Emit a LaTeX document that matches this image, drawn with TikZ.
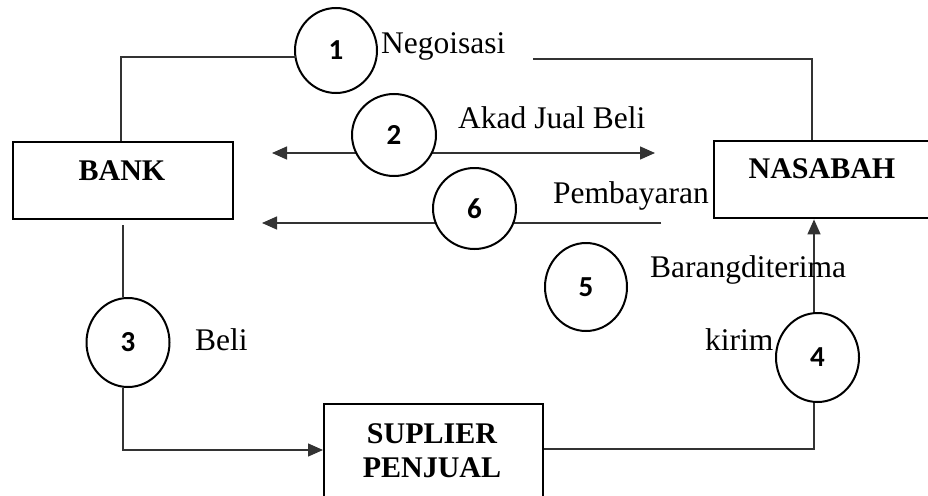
\documentclass[tikz,border=0pt]{standalone}
\usepackage{fontspec}
\setmainfont{Liberation Serif}
\newfontfamily\numfont{Carlito}
\usetikzlibrary{shapes.geometric,arrows.meta}
\tikzset{
  conn/.style={line width=1.3pt, draw=black!80},
  arr/.style={conn, -{Triangle[length=15pt,width=13pt]}},
  darr/.style={conn, {Triangle[length=15pt,width=13pt]}-{Triangle[length=15pt,width=13pt]}},
  boxnode/.style={draw, line width=2.4pt, rectangle, inner sep=0pt, anchor=north west},
  boxtxt/.style={font=\fontsize{30}{33}\selectfont\bfseries, inner sep=0pt, anchor=base},
  proc/.style={draw, line width=2pt, ellipse, fill=white, inner sep=0pt, font=\fontsize{29}{29}\selectfont\numfont\bfseries},
  lbl/.style={font=\fontsize{31.5}{36}\selectfont, inner sep=0pt, anchor=base west}
}
\begin{document}
\begin{tikzpicture}[x=1pt,y=-1pt]
\useasboundingbox (0,0) rectangle (928,495);
\clip (0,0) rectangle (928,495);
\fill[white] (0,0) rectangle (928,495);
% boxes
\node[boxnode, minimum width=220pt, minimum height=77pt] (bank) at (12,141) {};
\node[boxtxt] (bankT) at (122,180) {BANK};
\node[boxnode, minimum width=240pt, minimum height=77pt] (nas) at (713,140) {};
\node[boxtxt] (nasT) at (822,178) {NASABAH};
\node[boxnode, minimum width=219pt, minimum height=110pt] (sup) at (323,403) {};
\node[boxtxt] (supT1) at (432,443) {SUPLIER};
\node[boxtxt] (supT2) at (432,477) {PENJUAL};
% corner coordinates
\coordinate (bTop) at (121,141);
\coordinate (k1) at (121,57);
\coordinate (k1e) at (296,57);
\coordinate (n1) at (533,59);
\coordinate (k2) at (812,59);
\coordinate (nTop) at (812,140);
\coordinate (a2l) at (272,153);
\coordinate (a2r) at (655,153);
\coordinate (a6r) at (661,223);
\coordinate (a6l) at (262,223);
\coordinate (bBot) at (123,225);
\coordinate (k3) at (123,450);
\coordinate (k4) at (814,449);
% connectors under circles
\draw[darr] (a2l) -- (a2r);
\draw[arr] (a6r) -- (a6l);
% circles
\node[proc, minimum width=82pt, minimum height=85pt] (c1) at (336,50.5) {1};
\node[proc, minimum width=84pt, minimum height=82pt] (c2) at (394,135) {2};
\node[proc, minimum width=83pt, minimum height=89pt] (c3) at (128,342.5) {3};
\node[proc, minimum width=83pt, minimum height=89pt] (c4) at (817.5,357.5) {4};
\node[proc, minimum width=82pt, minimum height=88pt] (c5) at (586,287) {5};
\node[proc, minimum width=83pt, minimum height=81pt] (c6) at (474.5,208.5) {6};
% connectors
\draw[conn] (bTop) -- (k1) -- (k1e);
\draw[conn] (n1) -- (k2) -- (nTop);
\draw[conn] (bBot) -- (bBot |- c3.north);
\draw[arr] (c3.south -| bBot) -- (k3) -- (sup.west |- k3);
\draw[conn] (sup.east |- k4) -- (k4) -- (k4 |- c4.south);
\draw[arr] (k4 |- c4.north) -- (k4 |- nas.south);
% labels
\node[lbl] (l1) at (381,53) {Negoisasi};
\node[lbl] (l2) at (458,128) {Akad Jual Beli};
\node[lbl] (l6) at (553,203) {Pembayaran};
\node[lbl] (l5) at (650,277) {Barangditerima};
\node[lbl] (l4) at (705,350) {kirim};
\node[lbl] (l3) at (195,350) {Beli};
\end{tikzpicture}
\end{document}
